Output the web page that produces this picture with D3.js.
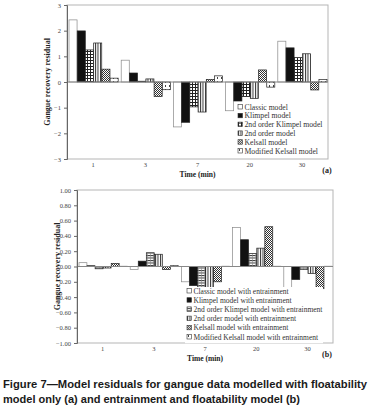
<!DOCTYPE html>
<html>
<head>
<meta charset="utf-8">
<script src="https://cdn.jsdelivr.net/npm/d3@7"></script>
<style>
  body { margin: 0; background: #fff; }
  svg { display: block; }
</style>
</head>
<body>
<script>
// time categories
let times = ["1", "3", "7", "20", "30"];

// panel (a): floatability model only
let namesA = ["Classic model", "Klimpel model", "2nd order Klimpel model",
              "2nd order model", "Kelsall model", "Modified Kelsall model"];
let classicA  = [2.42, 0.85, -1.75, -1.12, 1.59];
let klimpelA  = [1.99, 0.35, -1.57, -0.74, 1.33];
let klimpel2A = [1.25, 0.03, -0.97, -0.57, 0.95];
let order2A   = [1.52, 0.12, -1.17, -0.64, 1.10];
let kelsallA  = [0.50, -0.57, 0.10, 0.47, -0.31];
let modKelA   = [0.15, -0.30, 0.24, -0.20, 0.10];
let ticksA = [3, 2, 1, 0, -1, -2, -3];

// panel (b): entrainment and floatability model
let namesB = ["Classic model with entrainment", "Klimpel model with entrainment",
              "2nd order Klimpel model with entrainment", "2nd order model with entrainment",
              "Kelsall model with entrainment", "Modified Kelsall model with entrainment"];
let classicB  = [0.05, -0.04, -0.20, 0.51, -0.29];
let klimpelB  = [0.01, 0.07, -0.25, 0.35, -0.17];
let klimpel2B = [-0.03, 0.18, -0.27, 0.17, -0.04];
let order2B   = [-0.02, 0.16, -0.29, 0.24, -0.09];
let kelsallB  = [0.04, -0.04, -0.20, 0.52, -0.29];
let modKelB   = [0.003, 0.01, 0.003, 0.003, 0.003];
let ticksB = [1, 0.8, 0.6, 0.4, 0.2, 0, -0.2, -0.4, -0.6, -0.8, -1];

let svg = d3.select("body").append("svg").attr("width", 381).attr("height", 418);
svg.append("rect").attr("width", 381).attr("height", 418).attr("fill", "#fff");

// fill patterns
let defs = svg.append("defs");
function pat(id, w, h, draw) {
  let p = defs.append("pattern").attr("id", id).attr("patternUnits", "userSpaceOnUse")
    .attr("width", w).attr("height", h);
  p.append("rect").attr("width", w).attr("height", h).attr("fill", "#fff");
  draw(p);
}
pat("grid", 3, 3, p => {
  p.append("rect").attr("width", 3).attr("height", 1).attr("fill", "#222");
  p.append("rect").attr("width", 1).attr("height", 3).attr("fill", "#222");
});
pat("hlines", 3, 2.5, p => {
  p.append("rect").attr("width", 3).attr("height", 1).attr("fill", "#333");
  p.append("rect").attr("width", 0.6).attr("height", 2.5).attr("fill", "#888");
});
pat("vlines", 2.5, 3, p => {
  p.append("rect").attr("width", 1).attr("height", 3).attr("fill", "#333");
});
pat("checker", 2, 2, p => {
  p.append("rect").attr("width", 1).attr("height", 1).attr("fill", "#333");
  p.append("rect").attr("x", 1).attr("y", 1).attr("width", 1).attr("height", 1).attr("fill", "#333");
});
pat("dashes", 4, 4, p => {
  p.append("rect").attr("x", 1).attr("y", 1).attr("width", 1).attr("height", 2).attr("fill", "#444");
});

let fillsA = ["#fff", "#111", "url(#grid)", "url(#vlines)", "url(#checker)", "url(#dashes)"];
let fillsB = ["#fff", "#111", "url(#hlines)", "url(#vlines)", "url(#checker)", "url(#dashes)"];

function panel(cfg) {
  let x = d3.scaleBand().domain(times).range([cfg.left, cfg.right]);
  let y = d3.scaleLinear().domain([cfg.ticks[cfg.ticks.length - 1], cfg.ticks[0]])
    .range([cfg.bottom, cfg.top]);
  let xs = d3.scaleBand().domain(d3.range(cfg.series.length))
    .range([2, x.bandwidth() - 1]).paddingInner(0.02);

  // plot frame
  svg.append("rect")
    .attr("x", cfg.left).attr("y", cfg.top)
    .attr("width", cfg.right - cfg.left).attr("height", cfg.bottom - cfg.top)
    .attr("fill", "none").attr("stroke", "#b5b5b5").attr("stroke-width", 1);

  // bars
  cfg.series.forEach((vals, s) => {
    svg.append("g").selectAll("rect")
      .data(vals)
      .enter().append("rect")
        .attr("x", (d, i) => x(times[i]) + xs(s))
        .attr("width", xs.bandwidth())
        .attr("y", d => y(Math.max(0, d)))
        .attr("height", d => Math.abs(y(d) - y(0)))
        .attr("fill", cfg.fills[s])
        .attr("stroke", s == 0 ? "#888" : "#222")
        .attr("stroke-width", 0.7);
  });

  // zero line
  svg.append("line")
    .attr("x1", cfg.left).attr("x2", cfg.right)
    .attr("y1", y(0)).attr("y2", y(0))
    .attr("stroke", "#888").attr("stroke-width", 1);

  // y axis
  let yAxis = d3.axisLeft(y).tickValues(cfg.ticks).tickSize(3).tickPadding(3)
    .tickFormat(cfg.fmt);
  let ga = svg.append("g").attr("transform", `translate(${cfg.left},0)`).call(yAxis);
  ga.select(".domain").attr("stroke", "#666");
  ga.selectAll(".tick line").attr("stroke", "#666");
  ga.selectAll("text").attr("font-family", "Liberation Serif").attr("font-size", 6.5).attr("fill", "#444");

  // x axis labels
  let xAxis = d3.axisBottom(x).tickSize(0).tickPadding(3);
  let gx = svg.append("g").attr("transform", `translate(0,${cfg.bottom})`).call(xAxis);
  gx.select(".domain").remove();
  gx.selectAll("text").attr("font-family", "Liberation Serif").attr("font-size", 6.5).attr("fill", "#444");

  // axis titles
  svg.append("text")
    .attr("transform", `translate(${cfg.left - 17},${(cfg.top + cfg.bottom) / 2}) rotate(-90)`)
    .attr("text-anchor", "middle")
    .attr("font-family", "Liberation Serif").attr("font-weight", "bold").attr("font-size", 8)
    .attr("fill", "#222")
    .text("Gangue recovery residual");
  svg.append("text")
    .attr("x", x("7") + x.bandwidth() / 2).attr("y", cfg.bottom + 17.5)
    .attr("text-anchor", "middle")
    .attr("font-family", "Liberation Serif").attr("font-weight", "bold").attr("font-size", 7.5)
    .attr("fill", "#222")
    .text("Time (min)");
  svg.append("text")
    .attr("x", 327).attr("y", cfg.bottom + 14)
    .attr("text-anchor", "middle")
    .attr("font-family", "Liberation Serif").attr("font-weight", "bold").attr("font-size", 8)
    .attr("fill", "#222")
    .text(cfg.tag);

  // legend
  let lg = svg.append("g").attr("transform", `translate(${cfg.legX},${cfg.legY})`);
  lg.append("rect").attr("x", -2).attr("y", -5).attr("width", cfg.legW)
    .attr("height", cfg.names.length * cfg.legStep + 1).attr("fill", "#fff");
  let item = lg.selectAll("g.item")
    .data(cfg.names)
    .enter().append("g")
      .attr("class", "item")
      .attr("transform", (d, i) => `translate(0,${i * cfg.legStep})`);
  item.append("rect")
    .attr("x", 0).attr("y", -3.5).attr("width", 4.5).attr("height", 4.5)
    .attr("fill", (d, i) => cfg.fills[i])
    .attr("stroke", "#333").attr("stroke-width", 0.6);
  item.append("text")
    .attr("x", 6.5).attr("y", 1.5)
    .attr("font-family", "Liberation Serif").attr("font-size", cfg.legFont)
    .attr("fill", "#333")
    .text(d => d);
}

panel({
  left: 67, right: 328, top: 5, bottom: 159,
  ticks: ticksA, fmt: d3.format("d"), tag: "(a)",
  series: [classicA, klimpelA, klimpel2A, order2A, kelsallA, modKelA],
  fills: fillsA, names: namesA,
  legX: 238, legY: 108, legStep: 8.8, legW: 84, legFont: 7.7
});

panel({
  left: 77, right: 333, top: 190, bottom: 343,
  ticks: ticksB, fmt: d3.format(".2f"), tag: "(b)",
  series: [classicB, klimpelB, klimpel2B, order2B, kelsallB, modKelB],
  fills: fillsB, names: namesB,
  legX: 187, legY: 292, legStep: 9.2, legW: 138, legFont: 7.5
});

// caption
let caption = ["Figure 7\u2014Model residuals for gangue data modelled with floatability",
               "model only (a) and entrainment and floatability model (b)"];
svg.selectAll("text.caption")
  .data(caption)
  .enter().append("text")
    .attr("class", "caption")
    .attr("x", 3)
    .attr("y", (d, i) => 388 + i * 14.5)
    .attr("font-family", "Liberation Sans").attr("font-weight", "bold").attr("font-size", 10.5)
    .attr("fill", "#1a1a1a")
    .attr("textLength", (d, i) => i == 0 ? 364 : 297)
    .attr("lengthAdjust", "spacingAndGlyphs")
    .text(d => d);
</script>
</body>
</html>
